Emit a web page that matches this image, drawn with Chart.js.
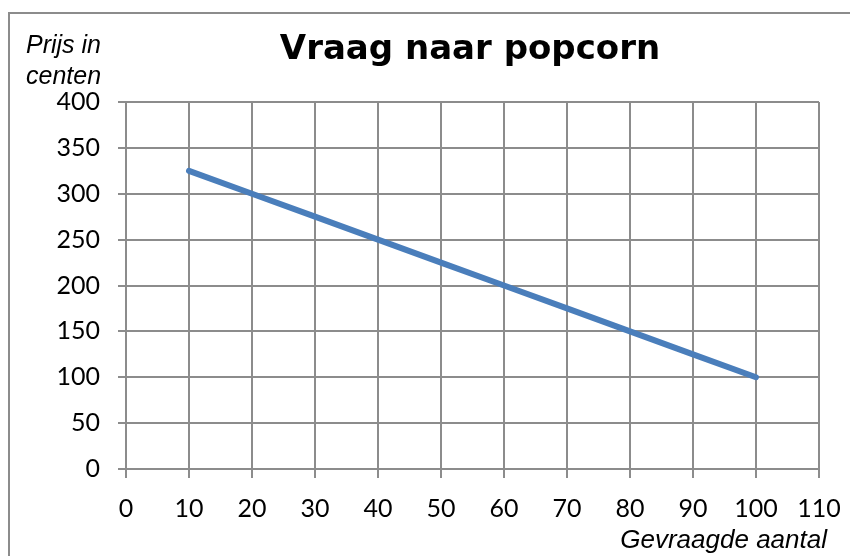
<!DOCTYPE html>
<html>
<head>
<meta charset="utf-8">
<script src="https://cdn.jsdelivr.net/npm/chart.js@4"></script>
<style>
    body { margin: 0; background: #fff; }
    #wrap { position: relative; width: 850px; height: 556px; overflow: hidden; }
    #frame { position: absolute; left: 8px; top: 12px; width: 900px; height: 600px; border-top: 2px solid #8c8c8c; border-left: 2px solid #8c8c8c; }
    canvas { position: absolute; left: 0; top: 0; }
    .lbl { position: absolute; color: #000; white-space: nowrap; }
    #title { left: 270px; top: 27px; width: 400px; text-align: center; font: bold 34px "DejaVu Sans"; line-height: 40px; }
    #ylab { left: 26px; top: 29px; font: italic 25px "Liberation Sans"; line-height: 31px; }
    #xlab { right: 23px; top: 524px; font: italic 26px "Liberation Sans"; line-height: 30px; }
</style>
</head>
<body>
<div id="wrap">
    <div id="frame"></div>
    <canvas id="myChart" width="850" height="556"></canvas>
    <div class="lbl" id="title">Vraag naar popcorn</div>
    <div class="lbl" id="ylab">Prijs in<br>centen</div>
    <div class="lbl" id="xlab">Gevraagde aantal</div>
</div>
<script>
// gevraagde aantal (x) en prijs in centen (y)
const aantal = [10, 20, 30, 40, 50, 60, 70, 80, 90, 100];
const prijs = [325, 300, 275, 250, 225, 200, 175, 150, 125, 100];
const xTicks = [0, 10, 20, 30, 40, 50, 60, 70, 80, 90, 100, 110];
const yTicks = [0, 50, 100, 150, 200, 250, 300, 350, 400];

const GRIJS = '#8c8c8c';
const tickFont = { family: 'Lato', size: 25 };

const ctx = document.getElementById('myChart').getContext('2d');
new Chart(ctx, {
    type: 'line',
    data: {
        datasets: [{
            data: aantal.map((a, i) => ({ x: a, y: prijs[i] })),
            borderColor: '#4a7ebb',
            borderWidth: 6,
            borderCapStyle: 'round',
            pointRadius: 0,
            tension: 0,
            fill: false
        }]
    },
    options: {
        responsive: false,
        animation: false,
        layout: { padding: { top: 102, left: 0, right: 31, bottom: 0 } },
        plugins: { legend: { display: false }, title: { display: false }, tooltip: { enabled: false } },
        scales: {
            x: {
                type: 'linear',
                min: 0, max: 110,
                afterBuildTicks: s => { s.ticks = xTicks.map(v => ({ value: v })); },
                afterFit: s => { s.height = 87; s.paddingLeft = 0; s.paddingRight = 0; },
                grid: { color: GRIJS, lineWidth: 2, tickLength: 9, drawTicks: true },
                border: { color: GRIJS, width: 2 },
                ticks: { font: tickFont, color: '#000', padding: 16, maxRotation: 0, autoSkip: false }
            },
            y: {
                min: 0, max: 400,
                afterBuildTicks: s => { s.ticks = yTicks.map(v => ({ value: v })); },
                afterFit: s => { s.width = 126; s.paddingTop = 0; s.paddingBottom = 0; },
                grid: { color: GRIJS, lineWidth: 2, tickLength: 8 },
                border: { color: GRIJS, width: 2 },
                ticks: { font: tickFont, color: '#000', padding: 18, autoSkip: false }
            }
        }
    }
});
</script>
</body>
</html>
